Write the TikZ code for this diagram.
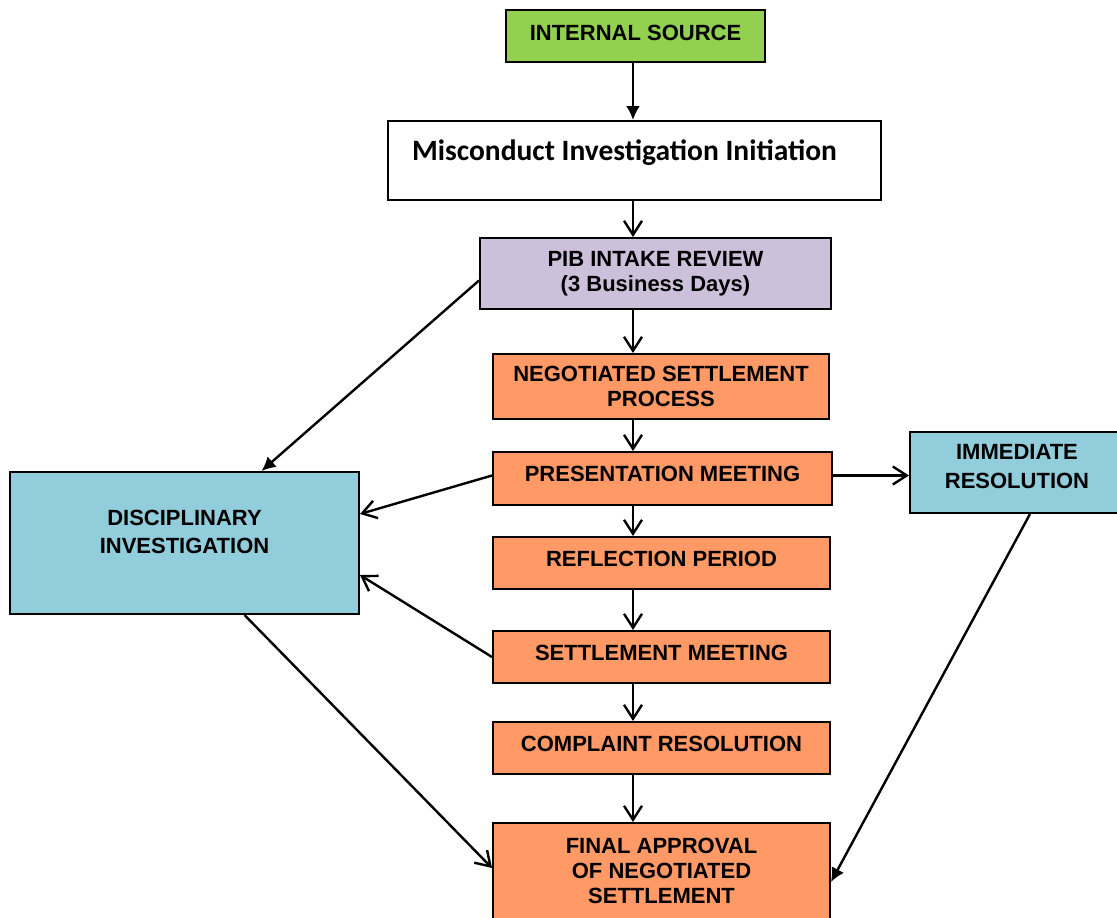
\documentclass[tikz,border=0pt]{standalone}
\usepackage{fontspec}
\setmainfont{Liberation Sans}
\newfontfamily\calibri{Carlito}
\usetikzlibrary{arrows.meta}

\definecolor{srcgreen}{HTML}{92D050}
\definecolor{pibpurple}{HTML}{CCC0DA}
\definecolor{steporange}{HTML}{FF9966}
\definecolor{sideblue}{HTML}{92CDDC}

\tikzset{
  box/.style={draw, line width=2pt, align=center, inner sep=0pt,
    font=\fontsize{22}{25}\selectfont\bfseries},
  onestep/.style={box, fill=steporange, minimum width=337pt, minimum height=52pt,
    text height=16pt, text depth=10pt},
  flow/.style={line width=2.4pt, -{Straight Barb[length=14pt,width=18pt,line width=2.4pt]}},
  push/.style={line width=2.4pt, -{Latex[length=14pt,width=14pt]}},
}

\begin{document}
\begin{tikzpicture}[x=1pt, y=-1pt]
    \useasboundingbox (0,0) rectangle (1117,918);
    \coordinate (spine) at (633,0);

    \node[box, fill=srcgreen, minimum width=259pt, minimum height=52pt, text height=16pt, text depth=8pt] (src) at (635.5,36) {INTERNAL SOURCE};
    \node[box, minimum width=493pt, minimum height=79pt, text height=22pt, text depth=23pt, font=\calibri\fontsize{29.5}{34}\selectfont\bfseries] (init) at (634.5,160.5) {Misconduct Investigation Initiation\hspace*{20pt}};
    \node[box, fill=pibpurple, minimum width=351pt, minimum height=71pt] (pib) at (655.5,273.5) {PIB INTAKE REVIEW\\(3 Business Days)};
    \node[box, fill=steporange, minimum width=336pt, minimum height=65pt] (nego) at (661,386.5) {NEGOTIATED SETTLEMENT\\PROCESS};
    \node[onestep, minimum width=339pt, minimum height=53pt] (pres) at (662.5,478.5) {PRESENTATION MEETING};
    \node[onestep] (refl) at (661.5,563) {REFLECTION PERIOD};
    \node[onestep] (sett) at (661.5,657) {SETTLEMENT MEETING};
    \node[onestep] (compl) at (661.5,748) {COMPLAINT RESOLUTION};
    \node[box, fill=steporange, minimum width=337pt, minimum height=96pt] (final) at (661.5,871) {FINAL APPROVAL\\OF NEGOTIATED\\SETTLEMENT};
    \node[box, fill=sideblue, minimum width=349pt, minimum height=142pt, text height=44pt, text depth=24pt, font=\fontsize{22}{28}\selectfont\bfseries] (disc) at (184.5,543) {DISCIPLINARY\\INVESTIGATION};
    \node[box, fill=sideblue, minimum width=214pt, minimum height=81pt, text height=45pt, text depth=14pt, font=\fontsize{22}{29}\selectfont\bfseries] (immed) at (1017,472.5) {IMMEDIATE\\RESOLUTION};

    % main column
    \draw (src.south -| spine) edge[push] (init.north -| spine);
    \draw (init.south -| spine) edge[flow] (pib.north -| spine);
    \draw (pib.south -| spine) edge[flow] (nego.north -| spine);
    \draw (nego.south -| spine) edge[flow] (pres.north -| spine);
    \draw (pres.south -| spine) edge[flow] (refl.north -| spine);
    \draw (refl.south -| spine) edge[flow] (sett.north -| spine);
    \draw (sett.south -| spine) edge[flow] (compl.north -| spine);
    \draw (compl.south -| spine) edge[flow] (final.north -| spine);

    % side branches
    \draw ([yshift=-7pt]pib.west) edge[push] ([xshift=77pt]disc.north);
    \draw ([yshift=3pt]pres.west) edge[flow] ([yshift=29pt]disc.east);
    \draw (sett.west) edge[flow] ([yshift=-32pt]disc.east);
    \draw ([xshift=60pt]disc.south) edge[flow] ([yshift=3pt]final.west);
    \draw ([yshift=3pt]pres.east) edge[flow] ([yshift=3pt]pres.east -| immed.west);
    \draw ([xshift=13pt]immed.south) edge[push] ([yshift=-11pt]final.east);
  \end{tikzpicture}
\end{document}
